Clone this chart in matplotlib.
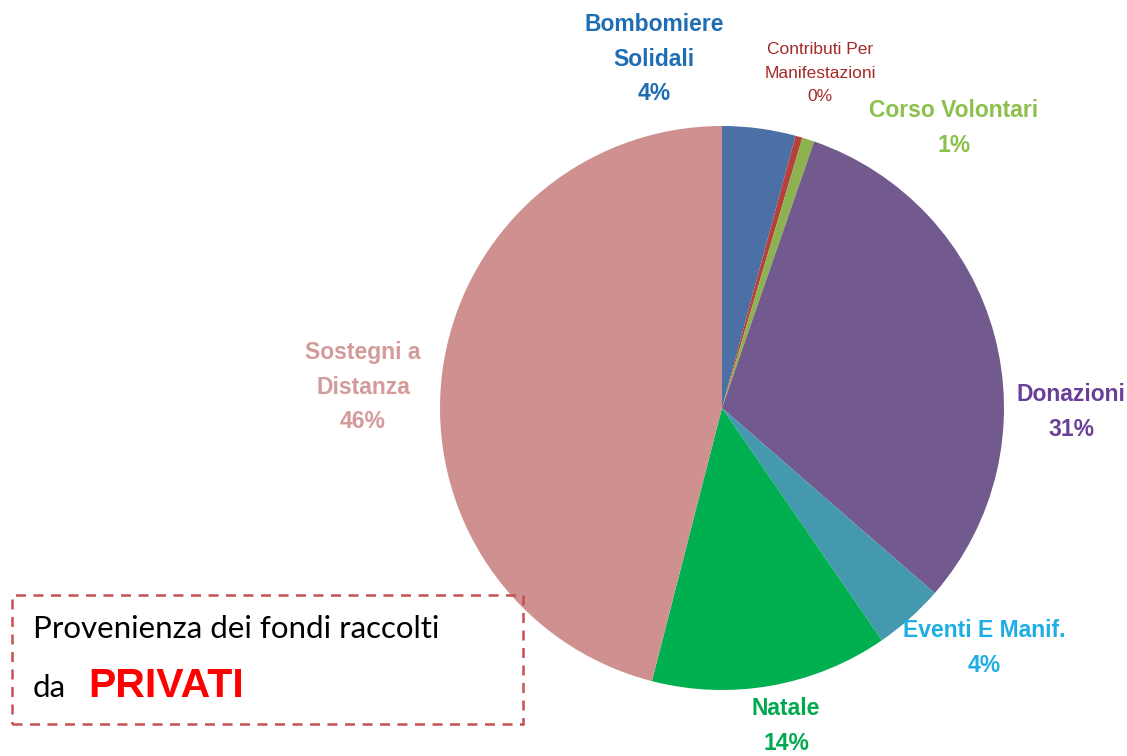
import matplotlib.pyplot as plt
from matplotlib.patches import Rectangle

# Provenienza fondi da privati (percentuali)
categorie = ["Bombomiere\nSolidali", "Contributi Per\nManifestazioni", "Corso Volontari",
             "Donazioni", "Eventi E Manif.", "Natale", "Sostegni a\nDistanza"]
valori = [4.2, 0.4, 0.7, 31.1, 4.0, 13.6, 46.0]
colori_fette = ["#4a70a6", "#b5403c", "#8db351", "#725a8e", "#4599af", "#00b050", "#cf918f"]
colori_testo = ["#1f6db3", "#a52a2a", "#8cc04c", "#6a3f98", "#1eaee3", "#00a94f", "#d39a9a"]

W, H = 1127, 756
fig = plt.figure(figsize=(W / 100, H / 100), dpi=100)
ax = fig.add_axes([0, 0, 1, 1])

ax.pie(valori, colors=colori_fette, startangle=90, counterclock=False,
       center=(722, H - 408), radius=282, wedgeprops=dict(linewidth=0))

# la torta reimposta i limiti: coordinate in pixel
ax.set_xlim(0, W)
ax.set_ylim(0, H)
ax.set_aspect("equal")
ax.axis("off")

font = "Liberation Sans"
# posizione (x, y) del centro di ogni etichetta, dimensione carattere, interlinea
pos = [(654, 59, 16.5, 1.65), (820, 73, 12.5, 1.72), (954, 128, 16.5, 1.65),
       (1071, 412, 16.5, 1.65), (984, 648, 16.5, 1.65), (786, 726, 16.5, 1.65),
       (363, 387, 16.5, 1.65)]
for nome, v, c, (x, y, s, ls) in zip(categorie, valori, colori_testo, pos):
    ax.text(x, H - y, f"{nome}\n{round(v)}%", color=c, fontsize=s,
            fontfamily=font, fontweight="normal" if s < 15 else "bold",
            ha="center", va="center", linespacing=ls)

# riquadro tratteggiato con il titolo
ax.add_patch(Rectangle((12, H - 724), 511, 129, fill=False, edgecolor="#c85050",
                       linestyle=(0, (4, 3)), linewidth=1.8))
ax.text(33, H - 638, "Provenienza dei fondi raccolti", fontsize=22.5,
        fontfamily="Lato", color="black", ha="left", va="baseline")
ax.text(33, H - 697, "da", fontsize=22.5, fontfamily="Lato", color="black",
        ha="left", va="baseline")
ax.text(88, H - 697, "PRIVATI", fontsize=29.5, fontfamily=font, fontweight="bold",
        color="#ff0000", ha="left", va="baseline")

fig.savefig("out.png", dpi=100)
